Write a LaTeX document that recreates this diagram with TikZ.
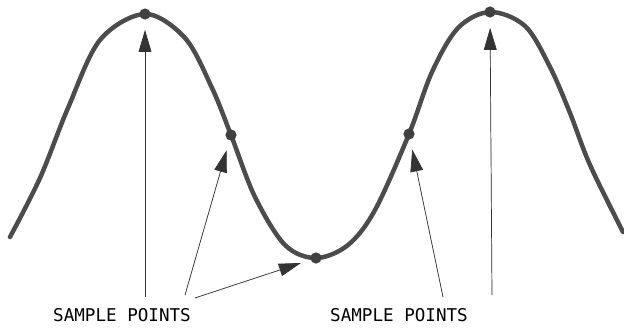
\documentclass[tikz,border=0pt]{standalone}
\usepackage{fontspec}
\newfontfamily\labelfont{DejaVu Sans Mono}
\usetikzlibrary{arrows.meta}

\tikzset{
  wave/.style={line width=3.2pt, draw=black!70, line cap=round},
  sample/.style={circle, fill=black!75, inner sep=0pt, minimum size=2.8mm},
  pointer/.style={-{Triangle[length=5.5mm,width=3.2mm]}, draw=black!80, fill=black!80, line width=0.5pt, shorten >=2.5mm},
  caption/.style={font=\fontsize{12.5}{14}\labelfont, inner sep=0pt}
}

\begin{document}
\begin{tikzpicture}[x=0.025cm, y=-0.025cm]

    \useasboundingbox (0,0) rectangle (624,329);

    % the signal
    \draw[wave] plot[smooth, tension=0.55] coordinates {
        (10,237) (40,178) (68,108) (100,40) (145,14) (185,38) (212,88) (231,135)
        (255,197) (285,245) (316,258) (348,245) (375,210) (409,134) (432,72)
        (458,28) (490,12) (525,26) (550,67) (570,113) (590,165) (623,232)};

    \node (s1)  at ( 145, 14) [sample] {};
    \node (s2)  at ( 231,135) [sample] {};
    \node (s3)  at ( 316,258) [sample] {};
    \node (s4)  at ( 409,134) [sample] {};
    \node (s5)  at ( 490, 12) [sample] {};

    \node (lblL)  at ( 122,315) [caption] {SAMPLE POINTS};
    \node (lblR)  at ( 399,315) [caption] {SAMPLE POINTS};

    \coordinate (t1) at ( 145,297);
    \coordinate (t2) at ( 185,295);
    \coordinate (t3) at ( 195,298);
    \coordinate (t4) at ( 443,297);
    \coordinate (t5) at ( 492,295);

    \draw[pointer] (t1) -- (s1);
    \draw[pointer] (t2) -- (s2);
    \draw[pointer] (t3) -- (s3);
    \draw[pointer] (t4) -- (s4);
    \draw[pointer] (t5) -- (s5);

\end{tikzpicture}
\end{document}
